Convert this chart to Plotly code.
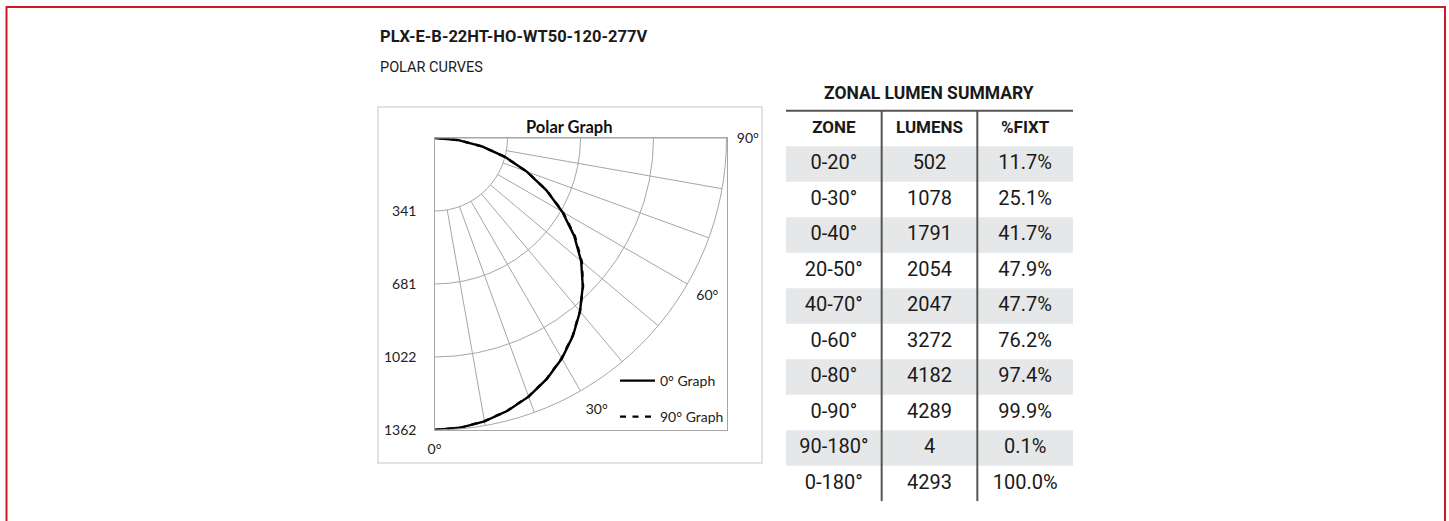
import plotly.graph_objects as go

# ---------------- data ----------------
title_text = "PLX-E-B-22HT-HO-WT50-120-277V"
subtitle_text = "POLAR CURVES"

angles = [0, 5, 10, 15, 20, 25, 30, 35, 40, 45, 50, 55, 60, 65, 70, 75, 80, 85, 90]
cand_0deg = [1362, 1357, 1342, 1317, 1284, 1240, 1188, 1126, 1056, 978, 893, 795, 688, 575, 458, 340, 225, 112, 0]
cand_90deg = [1362, 1357, 1341, 1316, 1283, 1239, 1186, 1124, 1055, 980, 897, 800, 692, 577, 458, 339, 224, 111, 0]

radial_ticks = [340.5, 681, 1021.5, 1362]
radial_ticktext = ["341", "681", "1022", "1362"]
r_max = 1362
spoke_angles = [10, 20, 30, 40, 50, 60, 70, 80]
angle_ticks = [0, 30, 60, 90]
angle_ticktext = ["0°", "30°", "60°", "90°"]

table_title = "ZONAL LUMEN SUMMARY"
table_header = ["ZONE", "LUMENS", "%FIXT"]
zones = ["0-20°", "0-30°", "0-40°", "20-50°", "40-70°", "0-60°", "0-80°", "0-90°", "90-180°", "0-180°"]
lumens = ["502", "1078", "1791", "2054", "2047", "3272", "4182", "4289", "4", "4293"]
pct_fixt = ["11.7%", "25.1%", "41.7%", "47.9%", "47.7%", "76.2%", "97.4%", "99.9%", "0.1%", "100.0%"]

# ---------------- layout helpers ----------------
W, H = 1449, 521
def xp(px):
    return px / W
def yp(py):
    return 1 - py / H

GRID = "#a6a6a6"
CHART_FONT = "Lato, Open Sans, sans-serif"
COND_FONT = "Roboto, sans-serif"

polar_x = [xp(434.5), xp(726.5)]
polar_y = [yp(430), yp(138)]

fig = go.Figure()

# frame (cartesian box around the polar quadrant)
fig.add_trace(go.Scatter(x=[None], y=[None], xaxis="x", yaxis="y",
                         showlegend=False, hoverinfo="skip"))

# spokes (angular grid lines starting at first ring)
spoke_r, spoke_t = [], []
for a in spoke_angles:
    spoke_r += [radial_ticks[0], r_max, None]
    spoke_t += [a, a, None]
fig.add_trace(go.Scatterpolar(r=spoke_r, theta=spoke_t, mode="lines",
                              line=dict(color=GRID, width=1),
                              showlegend=False, hoverinfo="skip"))

fig.add_trace(go.Scatterpolar(r=cand_90deg, theta=angles, mode="lines",
                              line=dict(color="black", width=2.4, dash="6px,6.5px"),
                              name="90° Graph", legend="legend2"))
fig.add_trace(go.Scatterpolar(r=cand_0deg, theta=angles, mode="lines",
                              line=dict(color="black", width=2.4),
                              name="0° Graph", legend="legend"))

# ---------------- table ----------------
n_rows = len(zones)
col_x = [i + 0.5 for i in range(3)]
row_y = list(range(n_rows))

fig.add_trace(go.Scatter(x=col_x, y=[-1] * 3, text=table_header, mode="text",
                         textfont=dict(family=COND_FONT, size=17, color="#1a1a1a", weight="bold"),
                         xaxis="x2", yaxis="y2", showlegend=False, hoverinfo="skip"))
for ci, col in enumerate([zones, lumens, pct_fixt]):
    fig.add_trace(go.Scatter(x=[col_x[ci]] * n_rows, y=row_y, text=col, mode="text",
                             textfont=dict(family=COND_FONT, size=20, color="#1a1a1a"),
                             xaxis="x2", yaxis="y2", showlegend=False, hoverinfo="skip"))

shapes = []
for i in range(0, n_rows, 2):
    shapes.append(dict(type="rect", xref="x2", yref="y2", x0=0, x1=3, y0=i - 0.5, y1=i + 0.5,
                       fillcolor="#e6e7e8", line=dict(width=0), layer="below"))
for xv in [1, 2]:
    shapes.append(dict(type="line", xref="x2", yref="y2", x0=xv, x1=xv, y0=-1.5, y1=n_rows - 0.5,
                       line=dict(color="#555555", width=2)))
shapes.append(dict(type="line", xref="x2", yref="y2", x0=0, x1=3, y0=-1.5, y1=-1.5,
                   line=dict(color="#555555", width=2)))
# chart area border
shapes.append(dict(type="rect", xref="paper", yref="paper", x0=xp(378), x1=xp(762), y0=yp(463), y1=yp(107),
                   line=dict(color="#d9d9d9", width=1.5), layer="below"))
# page border
shapes.append(dict(type="rect", xref="paper", yref="paper", x0=xp(6.5), x1=xp(1445), y0=-0.1, y1=yp(7),
                   line=dict(color="#cc1a2b", width=2)))

annotations = [
    dict(text=title_text, xref="paper", yref="paper", x=xp(378), y=yp(37), xanchor="left", yanchor="middle",
         showarrow=False, font=dict(family=COND_FONT, size=16.5, color="#1a1a1a", weight="bold")),
    dict(text=subtitle_text, xref="paper", yref="paper", x=xp(378), y=yp(68), xanchor="left", yanchor="middle",
         showarrow=False, font=dict(family=COND_FONT, size=14.5, color="#1a1a1a")),
    dict(text="Polar Graph", xref="paper", yref="paper", x=xp(569), y=yp(127), xanchor="center", yanchor="middle",
         showarrow=False, font=dict(family=CHART_FONT, size=16.5, color="#111", weight="bold")),
    dict(text=table_title, xref="x2", yref="y2", x=1.5, y=-2, xanchor="center", yanchor="middle",
         showarrow=False, font=dict(family=COND_FONT, size=17.5, color="#1a1a1a", weight="bold")),
]

fig.update_layout(
    width=W, height=H, margin=dict(l=0, r=0, t=0, b=0),
    paper_bgcolor="white", plot_bgcolor="rgba(0,0,0,0)",
    showlegend=True,
    shapes=shapes, annotations=annotations,
    xaxis=dict(domain=polar_x, range=[0, r_max], showline=True, mirror=True, linecolor=GRID, linewidth=1,
               showgrid=False, zeroline=False, showticklabels=False, ticks="", fixedrange=True),
    yaxis=dict(domain=polar_y, range=[0, r_max], showline=True, mirror=True, linecolor=GRID, linewidth=1,
               showgrid=False, zeroline=False, showticklabels=False, ticks="", fixedrange=True),
    xaxis2=dict(domain=[xp(786), xp(1073)], range=[0, 3], visible=False, fixedrange=True, anchor="y2"),
    yaxis2=dict(domain=[yp(501.25), yp(75.25)], range=[n_rows - 0.5, -2.5], visible=False, fixedrange=True, anchor="x2"),
    polar=dict(
        domain=dict(x=polar_x, y=polar_y),
        sector=[270, 360],
        bgcolor="rgba(0,0,0,0)",
        radialaxis=dict(range=[0, r_max], tickvals=radial_ticks, ticktext=radial_ticktext,
                        showline=True, linecolor=GRID, gridcolor=GRID, gridwidth=1, tickangle=-90,
                        ticks="outside", ticklen=12, tickcolor="rgba(0,0,0,0)",
                        tickfont=dict(family=CHART_FONT, size=14, color="#222")),
        # the angular axis range of this rotated sector runs 360..450, i.e. 0°..90° plus one turn
        angularaxis=dict(rotation=270, direction="counterclockwise", type="linear",
                         tickmode="array", tickvals=[a + 360 for a in angle_ticks], ticktext=angle_ticktext,
                         showgrid=False, showline=True, linecolor=GRID,
                         ticks="outside", ticklen=7, tickcolor="rgba(0,0,0,0)", showticklabels=True,
                         tickfont=dict(family=CHART_FONT, size=14, color="#222")),
    ),
    legend=dict(x=xp(615), y=yp(381), xanchor="left", yanchor="middle", bgcolor="rgba(0,0,0,0)",
                itemwidth=35, font=dict(family=CHART_FONT, size=14, color="#222")),
    legend2=dict(x=xp(615), y=yp(417), xanchor="left", yanchor="middle", bgcolor="rgba(0,0,0,0)",
                 itemwidth=35, font=dict(family=CHART_FONT, size=14, color="#222")),
)

fig.write_html("out.html", post_script="document.body.style.margin='0px';",
               config={"displayModeBar": False})
